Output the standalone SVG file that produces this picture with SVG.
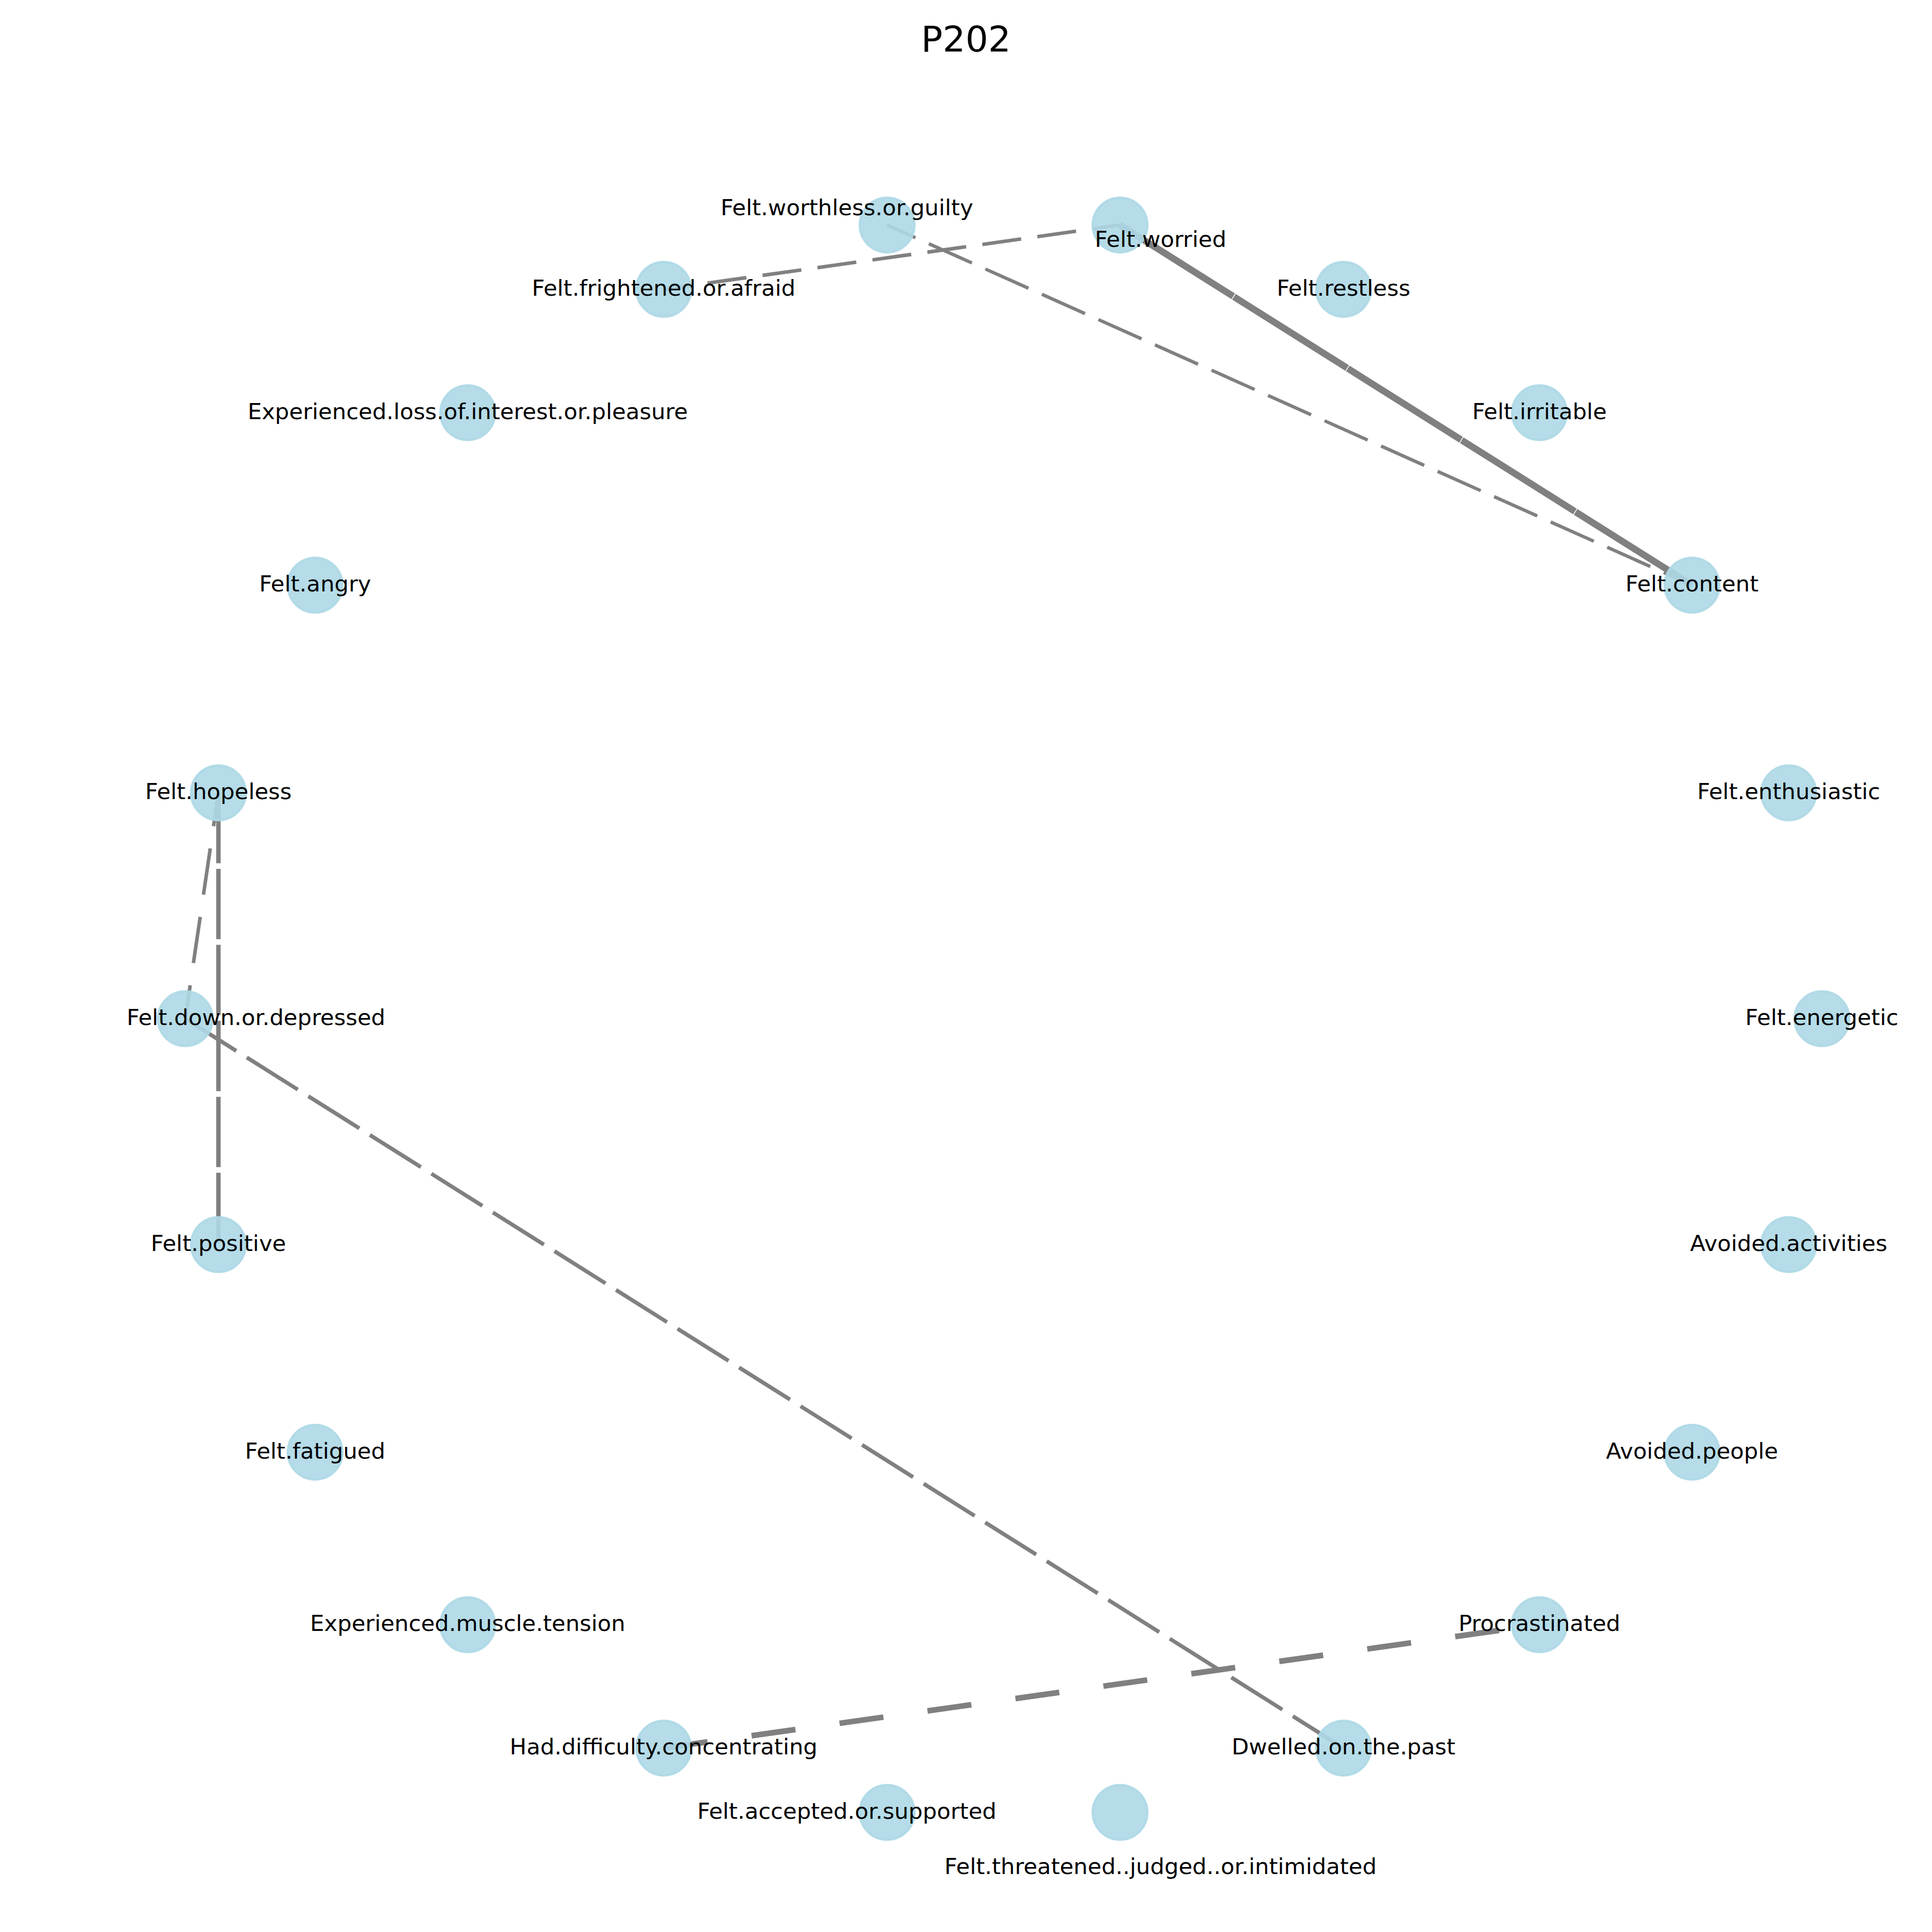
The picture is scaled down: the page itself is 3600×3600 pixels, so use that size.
<svg xmlns="http://www.w3.org/2000/svg" width="3600" height="3600" viewBox="0 0 3600 3600">
  <style>
    .bg { fill: #ffffff; }
    .title { font-family: "DejaVu Sans", "Liberation Sans", sans-serif; font-size: 66.67px; fill: #000000; text-anchor: middle; }
    .edge { fill: none; stroke: #808080; stroke-linecap: butt; }
    .node circle { fill: #ADD8E6; fill-opacity: 0.9; stroke: #ADD8E6; stroke-opacity: 0.9; stroke-width: 4.17; }
    .node text { font-family: "DejaVu Sans", "Liberation Sans", sans-serif; font-size: 41.67px; fill: #000000; text-anchor: middle; }
  </style>
  <rect class="bg" x="0" y="0" width="3600" height="3600"/>
  <text class="title" x="1800" y="96">P202</text>

  <!-- connectors, drawn centre to centre beneath the nodes -->
  <g id="edges">
    <line id="e-worried-content" class="edge" x1="2087.0" y1="419.3" x2="3152.8" y2="1090.4" stroke-width="12.5" stroke-dasharray="249.3 1.5"/>
    <line id="e-worthless-content" class="edge" x1="1653.0" y1="419.3" x2="3152.8" y2="1090.4" stroke-width="6.2" stroke-dasharray="88 27.4" stroke-dashoffset="30.2"/>
    <line id="e-frightened-worried" class="edge" x1="1236.6" y1="539.1" x2="2087.0" y2="419.3" stroke-width="6.6" stroke-dasharray="73 30.4" stroke-dashoffset="20.7"/>
    <line id="e-hopeless-positive" class="edge" x1="407.0" y1="1477.3" x2="407.0" y2="2319.1" stroke-width="8.3" stroke-dasharray="131.1 10.5"/>
    <line id="e-hopeless-down" class="edge" x1="407.0" y1="1477.3" x2="345.2" y2="1898.2" stroke-width="6.6" stroke-dasharray="87 41.9" stroke-dashoffset="24.2"/>
    <line id="e-down-dwelled" class="edge" x1="345.2" y1="1898.2" x2="2503.4" y2="3257.3" stroke-width="7.3" stroke-dasharray="112.3 23.2"/>
    <line id="e-concentrating-procrastinated" class="edge" x1="1236.6" y1="3257.3" x2="2868.5" y2="3027.4" stroke-width="10.5" stroke-dasharray="82.5 83"/>
  </g>

  <!-- nodes on an ellipse around (1870, 1898) -->
  <g id="n-energetic" class="node"><circle cx="3394.8" cy="1898.2" r="51"/><text x="3394.8" y="1910.2">Felt.energetic</text></g>
  <g id="n-enthusiastic" class="node"><circle cx="3333.0" cy="1477.3" r="51"/><text x="3333.0" y="1489.3">Felt.enthusiastic</text></g>
  <g id="n-content" class="node"><circle cx="3152.8" cy="1090.4" r="51"/><text x="3152.8" y="1102.4">Felt.content</text></g>
  <g id="n-irritable" class="node"><circle cx="2868.5" cy="769.0" r="51"/><text x="2868.5" y="781.0">Felt.irritable</text></g>
  <g id="n-restless" class="node"><circle cx="2503.4" cy="539.1" r="51"/><text x="2503.4" y="551.1">Felt.restless</text></g>
  <g id="n-worried" class="node"><circle cx="2087.0" cy="419.3" r="51"/><text x="2162.5" y="460">Felt.worried</text></g>
  <g id="n-worthless" class="node"><circle cx="1653.0" cy="419.3" r="51"/><text x="1578" y="400.5">Felt.worthless.or.guilty</text></g>
  <g id="n-frightened" class="node"><circle cx="1236.6" cy="539.1" r="51"/><text x="1236.6" y="551.1">Felt.frightened.or.afraid</text></g>
  <g id="n-loss-interest" class="node"><circle cx="871.5" cy="769.0" r="51"/><text x="871.5" y="781.0">Experienced.loss.of.interest.or.pleasure</text></g>
  <g id="n-angry" class="node"><circle cx="587.2" cy="1090.4" r="51"/><text x="587.2" y="1102.4">Felt.angry</text></g>
  <g id="n-hopeless" class="node"><circle cx="407.0" cy="1477.3" r="51"/><text x="407.0" y="1489.3">Felt.hopeless</text></g>
  <g id="n-down" class="node"><circle cx="345.2" cy="1898.2" r="51"/><text x="477" y="1910.2">Felt.down.or.depressed</text></g>
  <g id="n-positive" class="node"><circle cx="407.0" cy="2319.1" r="51"/><text x="407.0" y="2331.1">Felt.positive</text></g>
  <g id="n-fatigued" class="node"><circle cx="587.2" cy="2706.0" r="51"/><text x="587.2" y="2718.0">Felt.fatigued</text></g>
  <g id="n-muscle" class="node"><circle cx="871.5" cy="3027.4" r="51"/><text x="871.5" y="3039.4">Experienced.muscle.tension</text></g>
  <g id="n-concentrating" class="node"><circle cx="1236.6" cy="3257.3" r="51"/><text x="1236.6" y="3269.3">Had.difficulty.concentrating</text></g>
  <g id="n-accepted" class="node"><circle cx="1653.0" cy="3377.1" r="51"/><text x="1578" y="3389.1">Felt.accepted.or.supported</text></g>
  <g id="n-threatened" class="node"><circle cx="2087.0" cy="3377.1" r="51"/><text x="2162.5" y="3492.3">Felt.threatened..judged..or.intimidated</text></g>
  <g id="n-dwelled" class="node"><circle cx="2503.4" cy="3257.3" r="51"/><text x="2503.4" y="3269.3">Dwelled.on.the.past</text></g>
  <g id="n-procrastinated" class="node"><circle cx="2868.5" cy="3027.4" r="51"/><text x="2868.5" y="3039.4">Procrastinated</text></g>
  <g id="n-avoided-people" class="node"><circle cx="3152.8" cy="2706.0" r="51"/><text x="3152.8" y="2718.0">Avoided.people</text></g>
  <g id="n-avoided-activities" class="node"><circle cx="3333.0" cy="2319.1" r="51"/><text x="3333.0" y="2331.1">Avoided.activities</text></g>
</svg>
